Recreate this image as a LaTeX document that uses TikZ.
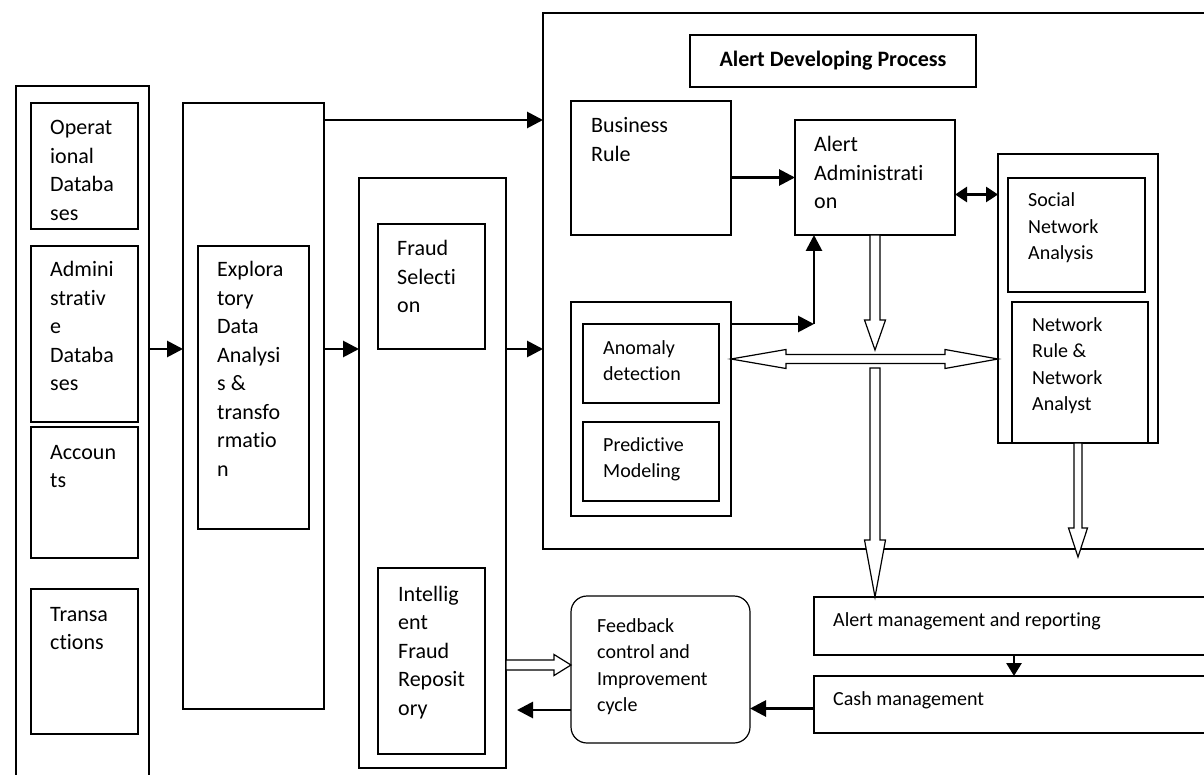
\documentclass[tikz,border=0pt]{standalone}
\usepackage{fontspec}
\setmainfont{Carlito}[Ligatures=CommonOff]
\usepackage{tikz}
\usetikzlibrary{arrows.meta, calc}

% hollow block arrow pointing down: top, tip, half shaft, half head, head length
\newcommand{\downblock}[5]{%
  \draw[hollow] ($(#1)+(-#3,0)$) -- ($(#2)+(-#3,-#5)$) -- ($(#2)+(-#4,-#5)$) -- (#2)
    -- ($(#2)+(#4,-#5)$) -- ($(#2)+(#3,-#5)$) -- ($(#1)+(#3,0)$) -- cycle;}
% lines of a box text, baseline on the first line
\newcommand{\stack}[1]{\begin{tabular}[t]{@{}l@{}}#1\end{tabular}}

\begin{document}
\begin{tikzpicture}[
    x=1pt, y=-1pt,
    box/.style={rectangle, draw, line width=1.2pt, outer sep=0pt, inner sep=0pt, anchor=north west},
    rbox/.style={box, rounded corners=16pt},
    txt/.style={anchor=base west, inner sep=0pt, font=\fontsize{22}{28.5}\selectfont},
    stxt/.style={txt, font=\fontsize{20}{26.5}\selectfont},
    arrow/.style={-{Triangle[length=16pt,width=16pt]}, line width=2.8pt},
    hollow/.style={draw, line width=1.2pt, fill=white, line join=miter}
]
\clip (0,0) rectangle (1204,775);

% Data sources
\node[box, minimum width=133pt, minimum height=714pt] (srcs) at (16,86) {};
\node[box, minimum width=107pt, minimum height=126pt] (ops) at (31,103) {};
\node[box, minimum width=107pt, minimum height=176pt] (admdb) at (31,246) {};
\node[box, minimum width=107pt, minimum height=131pt] (acc) at (31,427) {};
\node[box, minimum width=107pt, minimum height=145pt] (trans) at (31,589) {};
\node[txt] (ops-t) at ([shift={(19,32)}]ops.north west) {\stack{Operat\\ional\\Databa\\ses}};
\node[txt] (admdb-t) at ([shift={(19,31)}]admdb.north west) {\stack{Admini\\strativ\\e\\Databa\\ses}};
\node[txt] (acc-t) at ([shift={(19,32)}]acc.north west) {\stack{Accoun\\ts}};
\node[txt] (trans-t) at ([shift={(19,32)}]trans.north west) {\stack{Transa\\ctions}};

% Exploratory analysis
\node[box, minimum width=141pt, minimum height=606pt] (eda) at (183,103) {};
\node[box, minimum width=111pt, minimum height=283pt] (edain) at (198,246) {};
\node[txt] (eda-t) at ([shift={(19,31)}]edain.north west) {\stack{Explora\\tory\\Data\\Analysi\\s \&\\transfo\\rmatio\\n}};

% Fraud column
\node[box, minimum width=147pt, minimum height=590pt] (fraud) at (359,178) {};
\node[box, minimum width=107pt, minimum height=125pt] (frsel) at (378,224) {};
\node[box, minimum width=107pt, minimum height=186pt] (ifr) at (378,568) {};
\node[txt] (frsel-t) at ([shift={(19,32)}]frsel.north west) {\stack{Fraud\\Selecti\\on}};
\node[txt] (ifr-t) at ([shift={(20,33)}]ifr.north west) {\stack{Intellig\\ent\\Fraud\\Reposit\\ory}};

% Alert developing process
\node[box, minimum width=700pt, minimum height=536pt] (adp) at (543,13) {};
\node[box, minimum width=286pt, minimum height=52pt, font=\fontsize{22}{26}\selectfont\bfseries] (title) at (690,35) {Alert Developing Process};
\node[box, minimum width=160pt, minimum height=134pt] (brule) at (571,101) {};
\node[box, minimum width=160pt, minimum height=115pt] (adm) at (795,120) {};
\node[box, minimum width=160pt, minimum height=214pt] (grp) at (571,302) {};
\node[box, minimum width=136pt, minimum height=79pt] (anom) at (583,324) {};
\node[box, minimum width=136pt, minimum height=79pt] (pred) at (583,422) {};
\node[box, minimum width=160pt, minimum height=289pt] (net) at (998,154) {};
\node[box, minimum width=137pt, minimum height=114pt] (sna) at (1008,178) {};
\node[box, minimum width=136pt, minimum height=141pt] (nra) at (1012,302) {};
\node[txt] (brule-t) at ([shift={(20,32)}]brule.north west) {\stack{Business\\Rule}};
\node[txt] (adm-t) at ([shift={(19,32)}]adm.north west) {\stack{Alert\\Administrati\\on}};
\node[stxt] (anom-t) at ([shift={(20,30)}]anom.north west) {\stack{Anomaly\\detection}};
\node[stxt] (pred-t) at ([shift={(20,29)}]pred.north west) {\stack{Predictive\\Modeling}};
\node[stxt] (sna-t) at ([shift={(20,29)}]sna.north west) {\stack{Social\\Network\\Analysis}};
\node[stxt] (nra-t) at ([shift={(20,29)}]nra.north west) {\stack{Network\\Rule \&\\Network\\Analyst}};

% Management and feedback
\node[rbox, minimum width=179pt, minimum height=147pt] (fb) at (571,596) {};
\node[box, minimum width=420pt, minimum height=58pt] (amr) at (814,597) {};
\node[box, minimum width=420pt, minimum height=57pt] (cash) at (814,676) {};
\node[stxt] (fb-t) at ([shift={(26,36)}]fb.north west) {\stack{Feedback\\control and\\Improvement\\cycle}};
\node[stxt] (amr-t) at ([shift={(19,29)}]amr.north west) {Alert management and reporting};
\node[stxt] (cash-t) at ([shift={(19,29)}]cash.north west) {Cash management};

% Arrows
\draw[arrow] (srcs.east |- frsel.south) -- (eda.west |- frsel.south);
\draw[arrow] (eda.east |- frsel.south) -- (fraud.west |- frsel.south);
\draw[arrow] (fraud.east |- frsel.south) -- (adp.west |- frsel.south);
\draw[arrow] (eda.east |- adm.north) -- (adp.west |- adm.north);
\draw[arrow] (brule.east |- adm.west) -- (adm.west);
\draw[{Triangle[length=12pt,width=15pt]}-{Triangle[length=12pt,width=15pt]}, line width=2.8pt]
    ([yshift=-17pt]adm.east) -- ([yshift=-17pt]adm.east -| net.west);
\coordinate (bend) at (814,324);
\draw[arrow] (grp.east |- bend) -- (bend);
\draw[arrow] (bend) -- (bend |- adm.south);
\draw[-{Triangle[length=13pt,width=15pt]}, line width=2.8pt] (amr.south -| 1014,0) -- (cash.north -| 1014,0);
\draw[arrow] ([yshift=-4pt]cash.west) -- ([yshift=-4pt]cash.west -| fb.east);
\coordinate (back) at (517,710);
\draw[arrow] (fb.west |- back) -- (back);

% Hollow arrows
\coordinate (cross) at (875,359);
\coordinate (hl) at (grp.east |- cross);
\coordinate (hr) at (net.west |- cross);
\coordinate (t1) at ([yshift=9pt]cross);
\coordinate (s2) at ([yshift=-9pt]cross);
\downblock{adm.south}{t1}{5}{10.5}{30}
\downblock{s2}{amr.north -| cross}{5}{10.5}{57}
\downblock{net.south}{net.south |- 0,557}{4}{9.5}{29}
\draw[hollow] (hl) -- ($(hl)+(55,-9.5)$) -- ($(hl)+(55,-4.5)$) -- ($(hr)+(-53,-4.5)$) -- ($(hr)+(-53,-9.5)$)
    -- (hr) -- ($(hr)+(-53,9.5)$) -- ($(hr)+(-53,4.5)$) -- ($(hl)+(55,4.5)$) -- ($(hl)+(55,9.5)$) -- cycle;
\coordinate (fin) at (fraud.east |- 0,665);
\coordinate (fout) at (fb.west |- fin);
\draw[hollow] ($(fin)+(0,-5)$) -- ($(fout)+(-17,-5)$) -- ($(fout)+(-17,-10.5)$) -- (fout)
    -- ($(fout)+(-17,10.5)$) -- ($(fout)+(-17,5)$) -- ($(fin)+(0,5)$) -- cycle;

\end{tikzpicture}
\end{document}
